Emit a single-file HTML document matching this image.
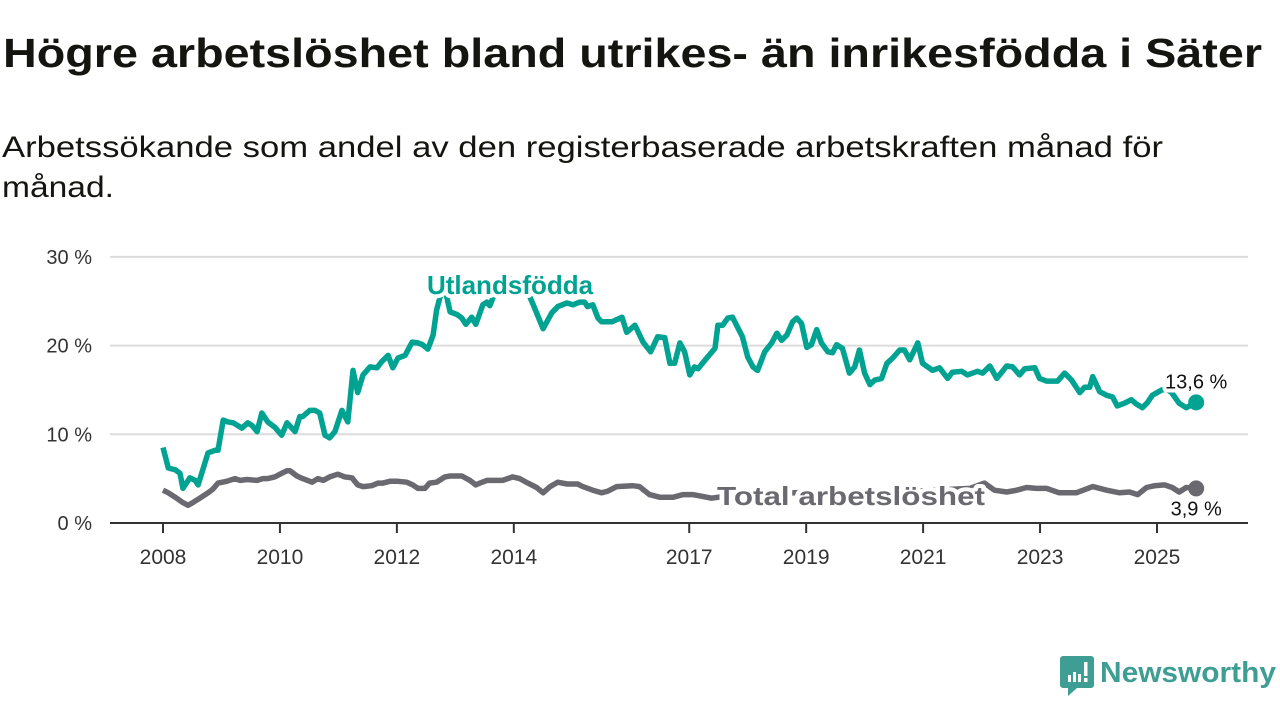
<!DOCTYPE html>
<html><head><meta charset="utf-8"><title>Arbetslöshet Säter</title>
<style>
html,body{margin:0;padding:0;background:#fff;}
svg{display:block;font-family:"Liberation Sans",sans-serif;}
.halo{paint-order:stroke;stroke:#fff;stroke-width:8px;stroke-linejoin:round;}
</style></head>
<body>
<svg id="chart" width="1280" height="720" viewBox="0 0 1280 720" xmlns="http://www.w3.org/2000/svg">
  <text x="3" y="67" font-size="41" font-weight="bold" fill="#141410" textLength="1259" lengthAdjust="spacingAndGlyphs">Högre arbetslöshet bland utrikes- än inrikesfödda i Säter</text>
  <text x="2" y="157" font-size="30" fill="#141410" textLength="1161" lengthAdjust="spacingAndGlyphs">Arbetssökande som andel av den registerbaserade arbetskraften månad för</text>
  <text x="2" y="197" font-size="30" fill="#141410" textLength="112" lengthAdjust="spacingAndGlyphs">månad.</text>
  <g id="grid"></g>
  <g id="series"></g>
  <g id="labels"></g>
  <g>
    <path d="M1063 656 h28 a3 3 0 0 1 3 3 v26 a3 3 0 0 1 -3 3 h-14 l-9 8 v-8 h-5 a3 3 0 0 1 -3 -3 v-26 a3 3 0 0 1 3 -3z" fill="#3f9e93"/>
    <rect x="1068" y="675" width="3" height="7" fill="#fff"/>
    <rect x="1073" y="672" width="3" height="10" fill="#fff"/>
    <rect x="1078" y="674" width="3" height="8" fill="#fff"/>
    <rect x="1084" y="662" width="3.5" height="14" fill="#fff"/>
    <rect x="1084" y="678" width="3.5" height="4" fill="#fff"/>
    <text x="1100" y="682" font-size="29" font-weight="bold" fill="#3f9e93" textLength="176" lengthAdjust="spacingAndGlyphs">Newsworthy</text>
  </g>
</svg>
<script>
const yTicks = [0, 10, 20, 30];
const yTickLabels = ["0 %", "10 %", "20 %", "30 %"];
const xTicks = [2008, 2010, 2012, 2014, 2017, 2019, 2021, 2023, 2025];
const foreignYears = [2008.00,2008.09,2008.21,2008.29,2008.34,2008.46,2008.55,2008.60,2008.77,2008.89,2008.94,2009.03,2009.11,2009.20,2009.35,2009.45,2009.52,2009.61,2009.69,2009.79,2009.91,2010.03,2010.12,2010.26,2010.34,2010.39,2010.51,2010.60,2010.68,2010.77,2010.85,2010.94,2011.06,2011.16,2011.25,2011.33,2011.42,2011.54,2011.66,2011.74,2011.85,2011.93,2012.02,2012.14,2012.26,2012.36,2012.44,2012.53,2012.62,2012.68,2012.74,2012.82,2012.91,2013.03,2013.11,2013.18,2013.28,2013.35,2013.47,2013.54,2013.59,2013.68,2013.81,2013.97,2014.10,2014.24,2014.32,2014.50,2014.65,2014.75,2014.91,2015.01,2015.13,2015.21,2015.26,2015.35,2015.44,2015.50,2015.68,2015.85,2015.93,2016.07,2016.21,2016.34,2016.46,2016.58,2016.67,2016.75,2016.84,2016.92,2017.01,2017.09,2017.15,2017.30,2017.44,2017.49,2017.57,2017.66,2017.74,2017.91,2018.00,2018.09,2018.17,2018.29,2018.41,2018.50,2018.58,2018.67,2018.77,2018.84,2018.92,2019.01,2019.09,2019.18,2019.26,2019.37,2019.45,2019.52,2019.62,2019.74,2019.83,2019.91,2020.00,2020.09,2020.17,2020.29,2020.38,2020.48,2020.60,2020.68,2020.77,2020.91,2020.99,2021.16,2021.28,2021.42,2021.50,2021.66,2021.76,2021.93,2022.02,2022.14,2022.26,2022.43,2022.53,2022.65,2022.74,2022.91,2022.99,2023.11,2023.30,2023.42,2023.54,2023.68,2023.76,2023.85,2023.90,2024.02,2024.14,2024.24,2024.32,2024.44,2024.56,2024.65,2024.75,2024.84,2024.92,2025.08,2025.16,2025.25,2025.38,2025.50,2025.67];
const foreignValues = [8.5,6.2,6.0,5.6,3.9,5.1,4.8,4.3,7.9,8.2,8.2,11.6,11.4,11.3,10.7,11.3,11.0,10.3,12.4,11.4,10.8,9.9,11.3,10.3,12.0,12.0,12.7,12.7,12.4,9.9,9.6,10.3,12.7,11.4,17.2,14.7,16.7,17.6,17.5,18.2,18.9,17.5,18.6,18.9,20.4,20.3,20.1,19.6,21.2,24.0,25.5,26.5,23.8,23.5,23.1,22.4,23.2,22.4,24.6,24.9,24.5,26.0,26.8,27.5,27.0,26.0,24.8,21.9,23.7,24.4,24.8,24.6,24.9,24.9,24.4,24.6,23.1,22.7,22.7,23.2,21.5,22.3,20.4,19.3,21.0,20.9,18.0,18.0,20.3,19.3,16.7,17.6,17.4,18.6,19.7,22.3,22.3,23.1,23.2,21.0,18.7,17.6,17.2,19.3,20.3,21.4,20.6,21.2,22.7,23.1,22.5,19.8,20.1,21.8,20.3,19.3,19.2,20.1,19.7,16.9,17.6,19.5,16.9,15.6,16.1,16.3,18.0,18.6,19.5,19.5,18.4,20.3,18.0,17.2,17.5,16.3,17.0,17.1,16.7,17.1,16.9,17.7,16.3,17.7,17.6,16.7,17.4,17.5,16.3,16.0,16.0,16.9,16.1,14.7,15.3,15.3,16.5,14.8,14.4,14.2,13.2,13.5,13.9,13.4,13.0,13.6,14.4,15.0,15.1,14.7,13.5,13.0,13.6];
const totalYears = [2008.00,2008.09,2008.21,2008.34,2008.43,2008.51,2008.63,2008.77,2008.85,2008.94,2009.09,2009.23,2009.32,2009.44,2009.61,2009.71,2009.79,2009.91,2010.03,2010.12,2010.17,2010.29,2010.39,2010.55,2010.65,2010.74,2010.85,2010.99,2011.11,2011.23,2011.33,2011.42,2011.57,2011.68,2011.76,2011.88,2012.02,2012.17,2012.27,2012.36,2012.48,2012.56,2012.68,2012.82,2012.91,2013.11,2013.25,2013.35,2013.42,2013.54,2013.81,2013.98,2014.10,2014.24,2014.39,2014.50,2014.62,2014.75,2014.91,2015.09,2015.18,2015.35,2015.50,2015.61,2015.76,2016.03,2016.15,2016.32,2016.50,2016.72,2016.89,2017.06,2017.23,2017.38,2017.60,2017.90,2018.20,2018.50,2018.80,2019.10,2019.40,2019.70,2020.00,2020.30,2020.60,2020.90,2021.20,2021.50,2021.80,2022.05,2022.22,2022.43,2022.60,2022.77,2022.94,2023.11,2023.33,2023.62,2023.90,2024.14,2024.36,2024.53,2024.67,2024.82,2024.96,2025.13,2025.26,2025.38,2025.50,2025.67];
const totalValues = [3.7,3.4,2.9,2.3,2.0,2.3,2.8,3.4,3.8,4.5,4.7,5.0,4.8,4.9,4.8,5.0,5.0,5.2,5.6,5.9,5.9,5.3,5.0,4.6,5.0,4.8,5.2,5.5,5.2,5.1,4.3,4.1,4.2,4.5,4.5,4.7,4.7,4.6,4.3,3.9,3.9,4.5,4.6,5.2,5.3,5.3,4.8,4.3,4.5,4.8,4.8,5.2,5.0,4.5,4.0,3.4,4.1,4.6,4.4,4.4,4.1,3.7,3.4,3.6,4.1,4.2,4.1,3.2,2.9,2.9,3.2,3.2,3.0,2.8,3.0,3.3,3.1,3.3,3.4,3.5,3.4,3.3,3.4,3.6,3.7,3.6,3.7,3.8,3.9,4.5,3.7,3.5,3.7,4.0,3.9,3.9,3.4,3.4,4.1,3.7,3.4,3.5,3.2,4.0,4.2,4.3,4.0,3.5,4.0,3.9];
const lastLabels = ["13,6 %", "3,9 %"];

const NS = "http://www.w3.org/2000/svg";
const xScale = y => 163 + (y - 2008) * 58.47;
const yScale = v => 523 - v * 8.87;
function mk(tag, attrs, parent) {
  const e = document.createElementNS(NS, tag);
  for (const k in attrs) e.setAttribute(k, attrs[k]);
  parent.appendChild(e);
  return e;
}
const grid = document.getElementById("grid");
yTicks.forEach((t, i) => {
  if (t > 0) {
    const gl = mk("line", {x1: 110, x2: 1248, y1: yScale(t), y2: yScale(t), stroke: "#dcdcdc", "stroke-width": 2}, grid);
    
    
  }
  const tl = mk("text", {x: 92, y: yScale(t) + 7, "text-anchor": "end", "font-size": 20, fill: "#333"}, grid);
  tl.textContent = yTickLabels[i];
  
  
});
const ax = mk("line", {x1: 110, x2: 1248, y1: 523, y2: 523, stroke: "#333", "stroke-width": 2}, grid);


xTicks.forEach(t => {
  const tk = mk("line", {x1: xScale(t), x2: xScale(t), y1: 523, y2: 533, stroke: "#333", "stroke-width": 2}, grid);
  
  
  const lb = mk("text", {x: xScale(t), y: 564, "text-anchor": "middle", "font-size": 21, fill: "#333"}, grid);
  lb.textContent = t;
  
  
});
const series = document.getElementById("series");
function drawLine(xs, vs, color, name) {
  const d = xs.map((x, i) => (i ? "L" : "M") + xScale(x).toFixed(1) + " " + yScale(vs[i]).toFixed(1)).join(" ");
  const p = mk("path", {d: d, fill: "none", stroke: color, "stroke-width": 5.5, "stroke-linejoin": "round"}, series);
  
  
  const n = xs.length - 1;
  const c = mk("circle", {cx: xScale(xs[n]), cy: yScale(vs[n]), r: 8, fill: color}, series);
  
  
}
drawLine(totalYears, totalValues, "#6b6970", "total");
drawLine(foreignYears, foreignValues, "#00a291", "foreign-born");
const labels = document.getElementById("labels");
const l1 = mk("text", {x: 510, y: 294, "text-anchor": "middle", "font-size": 26, "font-weight": "bold", fill: "#00a291", class: "halo"}, labels);
l1.textContent = "Utlandsfödda";


const l2 = mk("text", {x: 717, y: 505, "font-size": 26, "font-weight": "bold", fill: "#6b6970", class: "halo", textLength: 268, lengthAdjust: "spacingAndGlyphs"}, labels);
l2.textContent = "Total arbetslöshet";


const nf = foreignYears.length - 1, nt = totalYears.length - 1;
const v1 = mk("text", {x: xScale(foreignYears[nf]), y: yScale(foreignValues[nf]) - 14, "text-anchor": "middle", "font-size": 20, fill: "#111", class: "halo"}, labels);
v1.textContent = lastLabels[0];


const v2 = mk("text", {x: xScale(totalYears[nt]), y: yScale(totalValues[nt]) + 27, "text-anchor": "middle", "font-size": 20, fill: "#111", class: "halo"}, labels);
v2.textContent = lastLabels[1];


</script>
</body></html>
